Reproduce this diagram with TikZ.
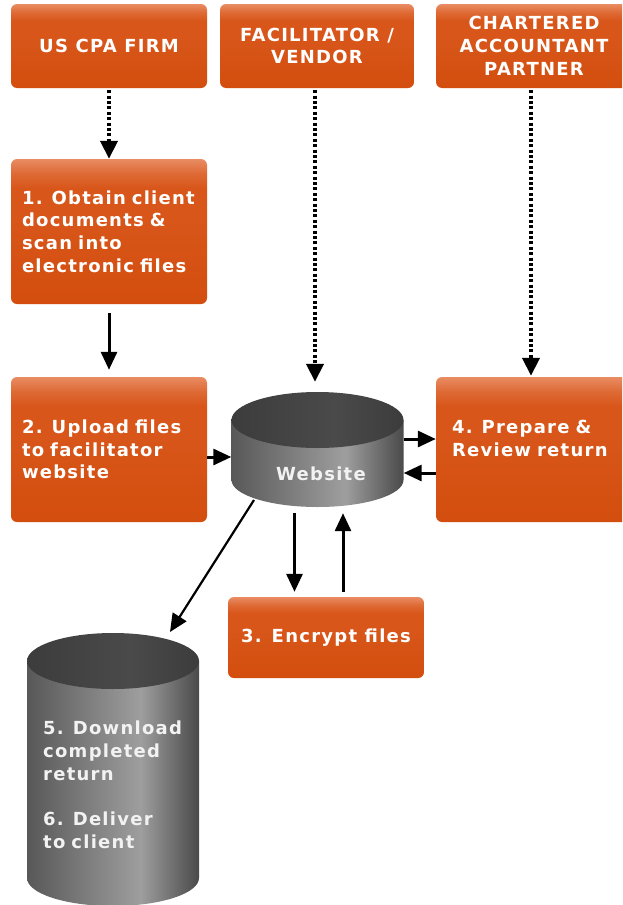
\documentclass[tikz,border=0pt]{standalone}
\usepackage{fontspec}
\newfontfamily\boxfont[LetterSpace=7]{DejaVu Sans}
\usetikzlibrary{arrows.meta,calc}
\definecolor{orT}{HTML}{E98C63}
\definecolor{orM2}{HTML}{DE6A35}
\definecolor{orM}{HTML}{D8561A}
\definecolor{orB}{HTML}{D34E0E}
\definecolor{gA}{HTML}{585858}
\definecolor{gB}{HTML}{9E9E9E}
\definecolor{gC}{HTML}{4A4A4A}
\definecolor{gT1}{HTML}{3C3C3C}
\definecolor{gT2}{HTML}{4A4A4A}
\definecolor{cyltxt}{HTML}{F2F2F2}
\pgfdeclareverticalshading{orshade}{100bp}{color(0bp)=(orB); color(25bp)=(orB); color(55bp)=(orM); color(65bp)=(orM); color(70bp)=(orM2); color(75bp)=(orT); color(100bp)=(orT)}
\pgfdeclarehorizontalshading{cylbody}{100bp}{color(0bp)=(gA); color(25bp)=(gA); color(58bp)=(gB); color(75bp)=(gC); color(100bp)=(gC)}
\pgfdeclarehorizontalshading{cyltop}{100bp}{color(0bp)=(gT1); color(25bp)=(gT1); color(55bp)=(gT2); color(75bp)=(gT1); color(100bp)=(gT1)}
\tikzset{
  orbox/.style={shading=orshade, rounded corners=6pt, inner sep=0pt,
    font=\boxfont\bfseries\fontsize{18}{22.7}\selectfont, text=white},
  leftbox/.style={orbox, minimum width=196pt, minimum height=145pt, text width=174pt, align=left},
  cyltext/.style={inner sep=0pt, text=cyltxt, font=\boxfont\bfseries\fontsize{18}{22.8}\selectfont},
  ghost/.style={draw=none, inner sep=0pt},
  arr/.style={line width=3pt, -{Triangle[width=16pt,length=18pt]}},
  dotarr/.style={line width=4pt, dash pattern=on 3pt off 2.4pt, -{Triangle[width=17pt,length=18pt]}},
  diagarr/.style={line width=2.2pt, -{Triangle[width=16pt,length=18pt]}}
}
\begin{document}
\begin{tikzpicture}[x=1pt,y=-1pt]
\clip (0,0) rectangle (622,905);
\fill[white] (0,0) rectangle (622,905);

% header boxes
\node[orbox, minimum width=196pt, minimum height=84pt, align=center] (cpa) at (109,46) {US CPA FIRM};
\node[orbox, minimum width=194pt, minimum height=84pt, align=center] (fac) at (317,46) {FACILITATOR /\\VENDOR};
\node[orbox, minimum width=196pt, minimum height=84pt, align=center] (chart) at (534,46) {CHARTERED\\ACCOUNTANT\\PARTNER};

% step boxes
\node[leftbox] (b1) at (109,231.5) {1. Obtain client\\documents \&\\scan into\\electronic files};
\node[leftbox] (b2) at (109,449.5) {2. Upload files\\to facilitator\\website};
\node[leftbox, text width=164pt] (b4) at (534,449.5) {4. Prepare \&\\Review return\\\mbox{}};
\node[orbox, minimum width=196pt, minimum height=81pt, align=center] (b3) at (326,637.5) {3. Encrypt files};

% website cylinder
\shade[shading=cylbody] (231.5,420) -- (231.5,480) arc[start angle=180,end angle=0,x radius=86,y radius=27] -- (403.5,420) -- cycle;
\shade[shading=cyltop] (317.5,420) ellipse[x radius=86,y radius=28];
\node[ghost, minimum width=172pt, minimum height=115pt] (web) at (317.5,449.5) {};
\node[cyltext] (webtxt) at (321,474) {Website};

% download cylinder
\shade[shading=cylbody] (27,661) -- (27,878) arc[start angle=180,end angle=0,x radius=86,y radius=28] -- (199,661) -- cycle;
\shade[shading=cyltop] (113,661) ellipse[x radius=86,y radius=28];
\node[ghost, minimum width=172pt, minimum height=276pt] (dl) at (113,771) {};
\node[cyltext, text width=150pt, align=left, anchor=west] (dltxt) at (43,785) {5. Download\\completed\\return\\\mbox{}\\6. Deliver\\to client};

% connectors
\draw[dotarr, shorten <=2pt] (cpa.south) -- (b1.north);
\draw[dotarr, shorten <=2pt, shorten >=10pt] ([xshift=-2pt]fac.south) -- ([xshift=-2pt]fac.south |- web.north);
\draw[dotarr, shorten <=2pt, shorten >=1pt] ([xshift=-3pt]chart.south) -- ([xshift=-3pt]b4.north);
\draw[arr, shorten <=9pt, shorten >=7pt] (b1.south) -- (b2.north);
\draw[arr] ([yshift=-7.5pt]b2.east) -- ([yshift=-7.5pt]web.west);
\draw[arr] ([yshift=10.5pt]web.east) -- ([yshift=10.5pt]b4.west);
\draw[arr] ([yshift=-23.5pt]b4.west) -- ([yshift=-23.5pt]web.east);
\draw[arr, shorten <=6pt, shorten >=5pt] ([xshift=-23pt]web.south) -- ([xshift=-23pt]web.south |- b3.north);
\draw[arr, shorten <=5pt, shorten >=6pt] ([xshift=17pt]b3.north) -- ([xshift=17pt]b3.north |- web.south);
\coordinate (webout) at (254,500);
\coordinate (dlin) at (170,632);
\draw[diagarr] (webout) -- (dlin);
\end{tikzpicture}
\end{document}
